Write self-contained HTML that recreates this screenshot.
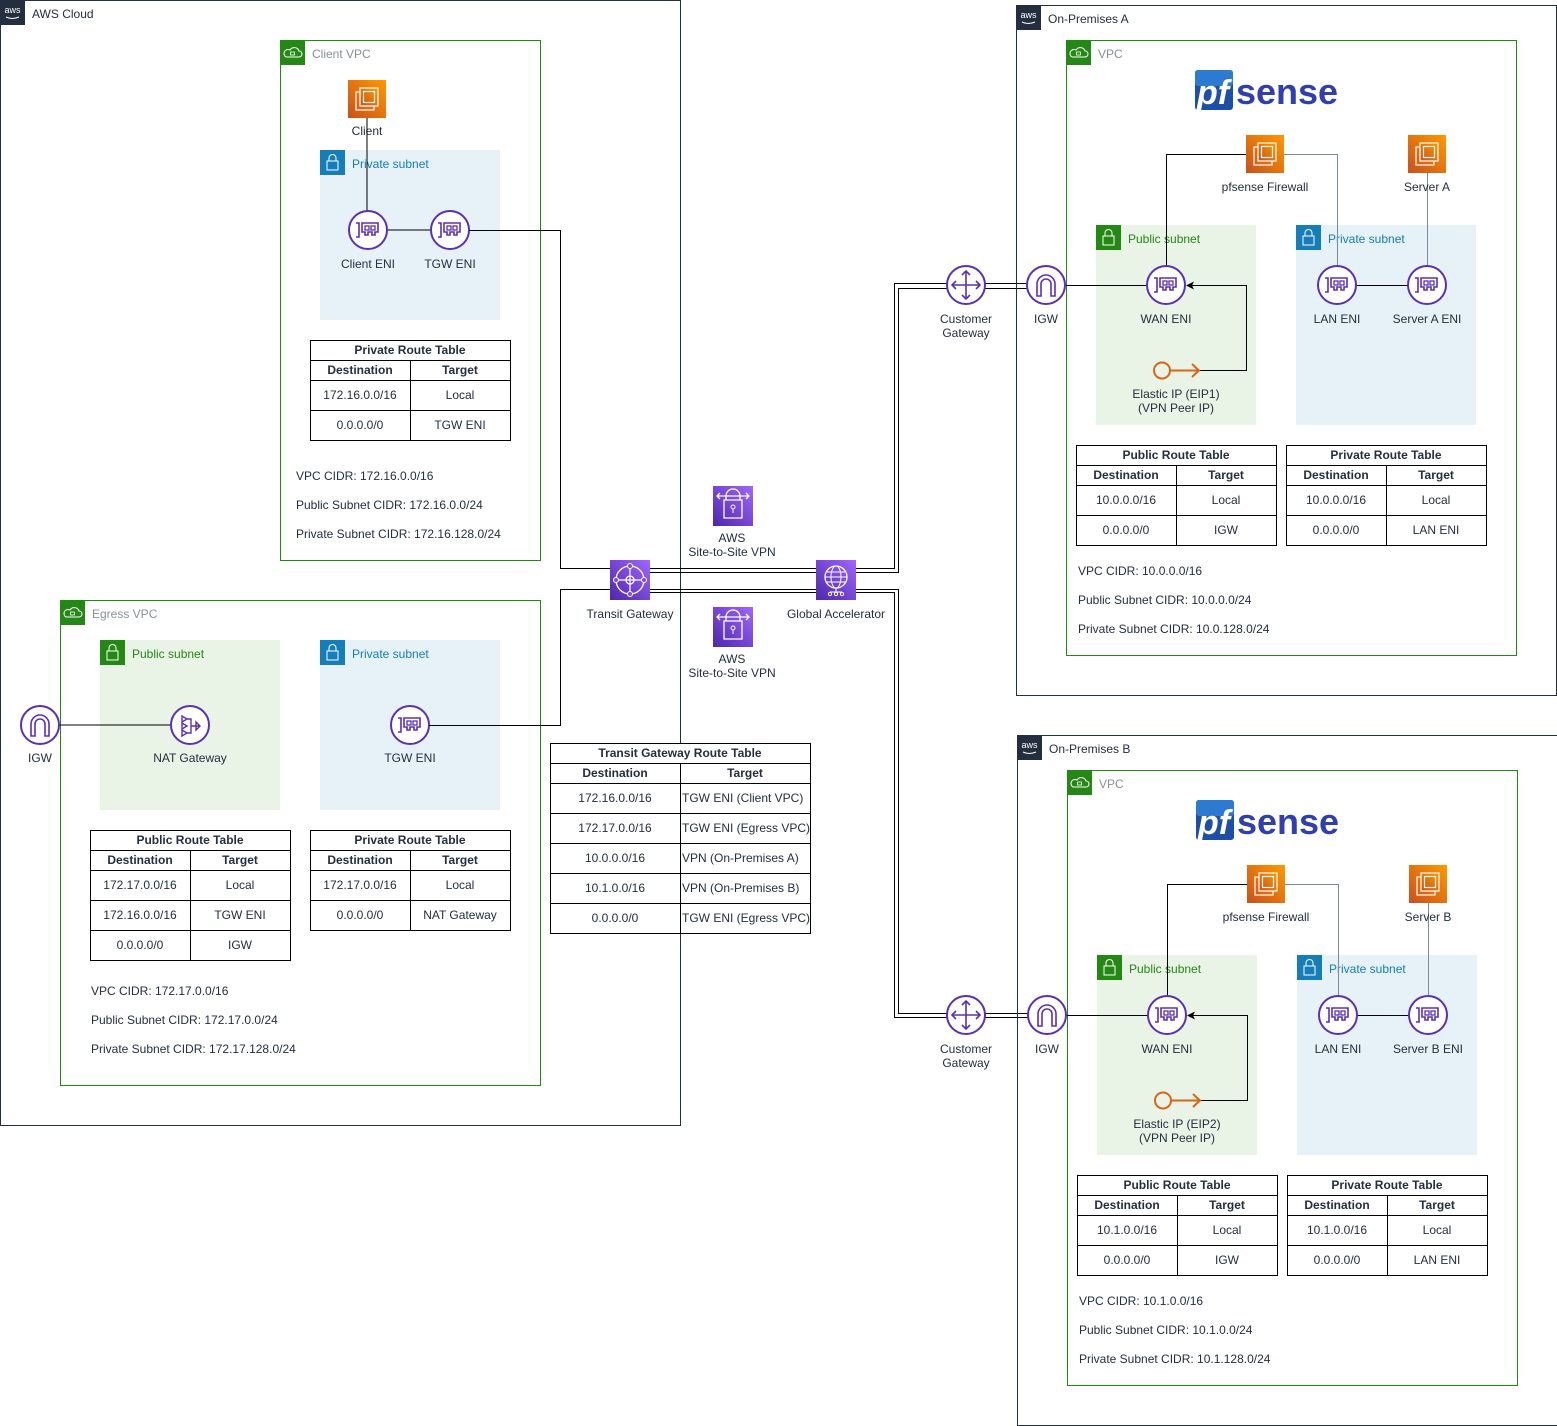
<!DOCTYPE html>
<html><head><meta charset="utf-8"><style>
html,body{margin:0;padding:0;background:#fff}
svg{display:block}
text{font-family:"Liberation Sans",Arial,sans-serif;font-size:12px;fill:#232F3E}
.b{font-weight:bold}
.c{text-anchor:middle}
.ln{fill:none;stroke:#000;stroke-width:1}
.tb{fill:#fff;stroke:#000;stroke-width:1}
</style></head><body>
<svg width="1557" height="1426" viewBox="0 0 1557 1426" xmlns="http://www.w3.org/2000/svg">
<defs>
<linearGradient id="og" x1="0" y1="1" x2="1" y2="0"><stop offset="0" stop-color="#C8511B"/><stop offset="1" stop-color="#FF9900"/></linearGradient>
<linearGradient id="pg" x1="0" y1="1" x2="1" y2="0"><stop offset="0" stop-color="#4D27AA"/><stop offset="1" stop-color="#A166FF"/></linearGradient>
<g id="ec2"><rect width="38" height="38" fill="url(#og)"/><rect x="8" y="12" width="18" height="18" fill="none" stroke="#fff" stroke-width="1.2"/><rect x="12" y="8" width="18" height="18" fill="url(#og)" stroke="#fff" stroke-width="1.2"/><rect x="15.5" y="11.5" width="11" height="11" fill="none" stroke="#fff" stroke-width="1.2"/></g>
<g id="eni"><circle r="19" fill="#fff" stroke="#5A30B5" stroke-width="2"/><path d="M-12,-7 h3 v14 h-3" fill="none" stroke="#5A30B5" stroke-width="1.6"/><path d="M-6,-7 h16 v9 h-3 v3 h-3 v-3 h-4 v3 h-3 v-3 h-3z" fill="none" stroke="#5A30B5" stroke-width="1.6"/><rect x="-3" y="-4" width="4" height="4" fill="none" stroke="#5A30B5" stroke-width="1.3"/><rect x="3" y="-4" width="4" height="4" fill="none" stroke="#5A30B5" stroke-width="1.3"/></g>
<g id="igw"><circle r="19" fill="#fff" stroke="#5A30B5" stroke-width="2"/><path d="M-9,11 v-12 a9,9 0 0 1 18,0 v12 h-4 v-12 a5,5 0 0 0 -10,0 v12z" fill="none" stroke="#5A30B5" stroke-width="1.6"/></g>
<g id="cgw"><circle r="19" fill="#fff" stroke="#5A30B5" stroke-width="2"/><path d="M0,-14 v28 M-14,0 h28 M-4,-10 l4,-4 4,4 M-4,10 l4,4 4,-4 M-10,-4 l-4,4 4,4 M10,-4 l4,4 -4,4" fill="none" stroke="#5A30B5" stroke-width="1.6"/></g>
<g id="vpn"><rect width="40" height="40" fill="url(#pg)"/><path d="M13,14 v-4 a7,7 0 0 1 14,0 v4 M11,14 h18 v18 h-18z M4,10 h32 M7,7 l-3,3 3,3 M33,7 l3,3 -3,3" fill="none" stroke="#fff" stroke-width="1.3"/><circle cx="20" cy="21" r="2" fill="none" stroke="#fff"/><path d="M20,23 v4" stroke="#fff"/></g>
<g id="vlock"><rect width="25" height="25"/><rect x="7" y="11" width="11" height="9" fill="none" stroke="#fff"/><path d="M9,11 v-3 a3.5,3.5 0 0 1 7,0 v3" fill="none" stroke="#fff"/></g>
<g id="cloud"><rect width="25" height="25" fill="#248814"/><path d="M6,17 h13 a3,3 0 0 0 0,-6 a5,5 0 0 0 -9,-1 a3.5,3.5 0 0 0 -4,7z" fill="none" stroke="#fff"/><rect x="10.5" y="12" width="4" height="3" fill="none" stroke="#fff" stroke-width=".8"/></g>
<g id="aws"><rect width="25" height="25" fill="#232F3E"/><text x="12.5" y="13" class="c" style="fill:#fff;font-size:9px">aws</text><path d="M6,17 q6,3 13,0" fill="none" stroke="#fff"/></g>
</defs>

<!-- AWS Cloud -->
<rect x="0.5" y="0.5" width="680" height="1125" fill="none" stroke="#232F3E"/>
<use href="#aws" x="0" y="0"/><text x="32" y="18">AWS Cloud</text>

<!-- Client VPC -->
<rect x="280.5" y="40.5" width="260" height="520" fill="none" stroke="#248814"/>
<use href="#cloud" x="280" y="40"/><text x="312" y="58" style="fill:#879196">Client VPC</text>
<rect x="320" y="150" width="180" height="170" fill="#E6F2F8"/>
<use href="#vlock" x="320" y="150" fill="#147EBA"/><text x="352" y="168" style="fill:#147EBA">Private subnet</text>
<use href="#ec2" x="348" y="80"/><text x="367" y="135" class="c">Client</text>
<path class="ln" d="M367,118 V211 M387,230 H431"/>
<use href="#eni" x="368" y="230"/><use href="#eni" x="450" y="230"/>
<text x="368" y="268" class="c">Client ENI</text><text x="450" y="268" class="c">TGW ENI</text>
<g>
<rect class="tb" x="310.5" y="340.5" width="200" height="100"/>
<path class="ln" d="M310,360.5 H510 M310,380.5 H510 M310,410.5 H510 M410.5,360 V440"/>
<text x="410" y="354" class="c b">Private Route Table</text>
<text x="360" y="374" class="c b">Destination</text><text x="460" y="374" class="c b">Target</text>
<text x="360" y="399" class="c">172.16.0.0/16</text><text x="460" y="399" class="c">Local</text>
<text x="360" y="429" class="c">0.0.0.0/0</text><text x="460" y="429" class="c">TGW ENI</text>
</g>
<text x="296" y="480">VPC CIDR: 172.16.0.0/16</text>
<text x="296" y="509">Public Subnet CIDR: 172.16.0.0/24</text>
<text x="296" y="538">Private Subnet CIDR: 172.16.128.0/24</text>

<!-- Egress VPC -->
<rect x="60.5" y="600.5" width="480" height="485" fill="none" stroke="#248814"/>
<use href="#cloud" x="60" y="600"/><text x="92" y="618" style="fill:#879196">Egress VPC</text>
<rect x="100" y="640" width="180" height="170" fill="#E9F3E6"/>
<use href="#vlock" x="100" y="640" fill="#248814"/><text x="132" y="658" style="fill:#248814">Public subnet</text>
<rect x="320" y="640" width="180" height="170" fill="#E6F2F8"/>
<use href="#vlock" x="320" y="640" fill="#147EBA"/><text x="352" y="658" style="fill:#147EBA">Private subnet</text>
<path class="ln" d="M59,725 H171"/>
<use href="#igw" x="40" y="725"/><text x="40" y="762" class="c">IGW</text>
<g transform="translate(190,725)"><circle r="19" fill="#fff" stroke="#5A30B5" stroke-width="2"/><path d="M-8,-9 l5,3 -5,3z M-8,-2 l5,3 -5,3z M-8,5 l5,3 -5,3z M-3,-6 h4 v14 h-4 M1,1 h9 M6,-3 l4,4 -4,4z" fill="none" stroke="#5A30B5" stroke-width="1.4"/></g>
<text x="190" y="762" class="c">NAT Gateway</text>
<use href="#eni" x="410" y="725"/><text x="410" y="762" class="c">TGW ENI</text>
<g>
<rect class="tb" x="90.5" y="830.5" width="200" height="130"/>
<path class="ln" d="M90,850.5 H290 M90,870.5 H290 M90,900.5 H290 M90,930.5 H290 M190.5,850 V960"/>
<text x="190" y="844" class="c b">Public Route Table</text>
<text x="140" y="864" class="c b">Destination</text><text x="240" y="864" class="c b">Target</text>
<text x="140" y="889" class="c">172.17.0.0/16</text><text x="240" y="889" class="c">Local</text>
<text x="140" y="919" class="c">172.16.0.0/16</text><text x="240" y="919" class="c">TGW ENI</text>
<text x="140" y="949" class="c">0.0.0.0/0</text><text x="240" y="949" class="c">IGW</text>
</g>
<g>
<rect class="tb" x="310.5" y="830.5" width="200" height="100"/>
<path class="ln" d="M310,850.5 H510 M310,870.5 H510 M310,900.5 H510 M410.5,850 V930"/>
<text x="410" y="844" class="c b">Private Route Table</text>
<text x="360" y="864" class="c b">Destination</text><text x="460" y="864" class="c b">Target</text>
<text x="360" y="889" class="c">172.17.0.0/16</text><text x="460" y="889" class="c">Local</text>
<text x="360" y="919" class="c">0.0.0.0/0</text><text x="460" y="919" class="c">NAT Gateway</text>
</g>
<text x="91" y="995">VPC CIDR: 172.17.0.0/16</text>
<text x="91" y="1024">Public Subnet CIDR: 172.17.0.0/24</text>
<text x="91" y="1053">Private Subnet CIDR: 172.17.128.0/24</text>

<!-- connectors -->
<path class="ln" d="M469,230.5 H560.5 V568.5 H894.5 V283.5 H947"/>
<path class="ln" d="M650,572.5 H898.5 V288.5 H947"/>
<path class="ln" d="M429,725.5 H560.5 V589.5 H898.5 V1013.5 H947"/>
<path class="ln" d="M650,592.5 H894.5 V1017.5 H947"/>
<path class="ln" d="M985,283.5 H1027 M985,288.5 H1027 M985,1013.5 H1028 M985,1017.5 H1028"/>

<!-- TGW table -->
<g>
<rect class="tb" x="550.5" y="743.5" width="260" height="190"/>
<path class="ln" d="M550,763.5 H810 M550,783.5 H810 M550,813.5 H810 M550,843.5 H810 M550,873.5 H810 M550,903.5 H810 M680.5,763 V933"/>
<text x="680" y="757" class="c b">Transit Gateway Route Table</text>
<text x="615" y="777" class="c b">Destination</text><text x="745" y="777" class="c b">Target</text>
<text x="615" y="802" class="c">172.16.0.0/16</text><text x="682" y="802">TGW ENI (Client VPC)</text>
<text x="615" y="832" class="c">172.17.0.0/16</text><text x="682" y="832">TGW ENI (Egress VPC)</text>
<text x="615" y="862" class="c">10.0.0.0/16</text><text x="682" y="862">VPN (On-Premises A)</text>
<text x="615" y="892" class="c">10.1.0.0/16</text><text x="682" y="892">VPN (On-Premises B)</text>
<text x="615" y="922" class="c">0.0.0.0/0</text><text x="682" y="922">TGW ENI (Egress VPC)</text>
</g>

<!-- TGW, GA, VPN -->
<g transform="translate(610,560)"><rect width="40" height="40" fill="url(#pg)"/><circle cx="20" cy="20" r="14" fill="none" stroke="#fff" stroke-width="1.3"/><circle cx="20" cy="20" r="4" fill="none" stroke="#fff" stroke-width="1.3"/><path d="M6,20 H34 M20,6 V34" stroke="#fff" stroke-width="1.2"/><circle cx="6" cy="20" r="2.5" fill="#7B4DDB" stroke="#fff"/><circle cx="34" cy="20" r="2.5" fill="#7B4DDB" stroke="#fff"/><circle cx="20" cy="6" r="2.5" fill="#7B4DDB" stroke="#fff"/><circle cx="20" cy="34" r="2.5" fill="#7B4DDB" stroke="#fff"/></g>
<text x="630" y="618" class="c">Transit Gateway</text>
<g transform="translate(816,560)"><rect width="40" height="40" fill="url(#pg)"/><circle cx="20" cy="17" r="11" fill="none" stroke="#fff" stroke-width="1.3"/><ellipse cx="20" cy="17" rx="5" ry="11" fill="none" stroke="#fff"/><path d="M9,17 H31 M11,12 H29 M11,22 H29 M20,28 v4 M14,32 h12" fill="none" stroke="#fff"/><circle cx="14" cy="34" r="1.6" fill="none" stroke="#fff"/><circle cx="20" cy="34" r="1.6" fill="none" stroke="#fff"/><circle cx="26" cy="34" r="1.6" fill="none" stroke="#fff"/></g>
<text x="836" y="618" class="c">Global Accelerator</text>
<use href="#vpn" x="713" y="486"/><text x="732" y="542" class="c">AWS</text><text x="732" y="556" class="c">Site-to-Site VPN</text>
<use href="#vpn" x="713" y="607"/><text x="732" y="663" class="c">AWS</text><text x="732" y="677" class="c">Site-to-Site VPN</text>

<!-- CGW / IGW outside -->
<use href="#cgw" x="966" y="285"/><text x="966" y="323" class="c">Customer</text><text x="966" y="337" class="c">Gateway</text>
<use href="#cgw" x="966" y="1015"/><text x="966" y="1053" class="c">Customer</text><text x="966" y="1067" class="c">Gateway</text>

<!-- On-Premises A / B -->
<g id="onprem">
<rect x="1016.5" y="5.5" width="540" height="690" fill="none" stroke="#232F3E"/>
<rect x="1066.5" y="40.5" width="450" height="615" fill="none" stroke="#248814"/>
<use href="#cloud" x="1066" y="40"/><text x="1098" y="58" style="fill:#879196">VPC</text>
<rect x="1096" y="225" width="160" height="200" fill="#E9F3E6"/>
<use href="#vlock" x="1096" y="225" fill="#248814"/><text x="1128" y="243" style="fill:#248814">Public subnet</text>
<rect x="1296" y="225" width="180" height="200" fill="#E6F2F8"/>
<use href="#vlock" x="1296" y="225" fill="#147EBA"/><text x="1328" y="243" style="fill:#147EBA">Private subnet</text>
<rect x="1195" y="70" width="38" height="40" rx="3" fill="#1E4FA8"/><rect x="1195" y="70" width="38" height="16" rx="3" fill="#2D7BD0"/>
<text x="1213" y="104" class="c b" style="fill:#fff;font-size:34px;font-style:italic">pf</text>
<text x="1236" y="104" class="b" style="fill:#2F3FAF;font-size:36px">sense</text>
<path class="ln" d="M1246,154.5 H1166.5 V266"/>
<path d="M1284,154.5 H1337.5 V266 M1427.5,173 V266" fill="none" stroke="#7D8998" stroke-width="1"/>
<path class="ln" d="M1066,285.5 H1147 M1356,285.5 H1408"/>
<path class="ln" d="M1200,370.5 H1246.5 V285.5 H1190"/><path d="M1186,285.5 l8,-4 -2,4 2,4z" fill="#000"/>
<use href="#ec2" x="1246" y="135"/><text x="1265" y="191" class="c">pfsense Firewall</text>
<use href="#ec2" x="1408" y="135"/>
<use href="#igw" x="1046" y="285"/><text x="1046" y="323" class="c">IGW</text>
<use href="#eni" x="1166" y="285"/><text x="1166" y="323" class="c">WAN ENI</text>
<use href="#eni" x="1337" y="285"/><text x="1337" y="323" class="c">LAN ENI</text>
<use href="#eni" x="1427" y="285"/>
<circle cx="1162" cy="370.5" r="8" fill="none" stroke="#D86613" stroke-width="2"/>
<path d="M1170,370.5 H1198 M1192,364 l7,6.5 -7,6.5" fill="none" stroke="#D86613" stroke-width="2"/>
<g>
<rect class="tb" x="1076.5" y="445.5" width="200" height="100"/>
<path class="ln" d="M1076,465.5 H1276 M1076,485.5 H1276 M1076,515.5 H1276 M1176.5,465 V545"/>
<text x="1176" y="459" class="c b">Public Route Table</text>
<text x="1126" y="479" class="c b">Destination</text><text x="1226" y="479" class="c b">Target</text>
<text x="1226" y="504" class="c">Local</text>
<text x="1126" y="534" class="c">0.0.0.0/0</text><text x="1226" y="534" class="c">IGW</text>
</g>
<g>
<rect class="tb" x="1286.5" y="445.5" width="200" height="100"/>
<path class="ln" d="M1286,465.5 H1486 M1286,485.5 H1486 M1286,515.5 H1486 M1386.5,465 V545"/>
<text x="1386" y="459" class="c b">Private Route Table</text>
<text x="1336" y="479" class="c b">Destination</text><text x="1436" y="479" class="c b">Target</text>
<text x="1436" y="504" class="c">Local</text>
<text x="1336" y="534" class="c">0.0.0.0/0</text><text x="1436" y="534" class="c">LAN ENI</text>
</g>
</g>
<use href="#aws" x="1016" y="5"/><text x="1048" y="23">On-Premises A</text>
<text x="1427" y="191" class="c">Server A</text>
<text x="1427" y="323" class="c">Server A ENI</text>
<text x="1176" y="398" class="c">Elastic IP (EIP1)</text><text x="1176" y="412" class="c">(VPN Peer IP)</text>
<text x="1126" y="504" class="c">10.0.0.0/16</text><text x="1336" y="504" class="c">10.0.0.0/16</text>
<text x="1078" y="575">VPC CIDR: 10.0.0.0/16</text>
<text x="1078" y="604">Public Subnet CIDR: 10.0.0.0/24</text>
<text x="1078" y="633">Private Subnet CIDR: 10.0.128.0/24</text>

<use href="#onprem" x="1" y="730"/>
<use href="#aws" x="1017" y="735"/><text x="1049" y="753">On-Premises B</text>
<text x="1428" y="921" class="c">Server B</text>
<text x="1428" y="1053" class="c">Server B ENI</text>
<text x="1177" y="1128" class="c">Elastic IP (EIP2)</text><text x="1177" y="1142" class="c">(VPN Peer IP)</text>
<text x="1127" y="1234" class="c">10.1.0.0/16</text><text x="1337" y="1234" class="c">10.1.0.0/16</text>
<text x="1079" y="1305">VPC CIDR: 10.1.0.0/16</text>
<text x="1079" y="1334">Public Subnet CIDR: 10.1.0.0/24</text>
<text x="1079" y="1363">Private Subnet CIDR: 10.1.128.0/24</text>
</svg>
</body></html>
